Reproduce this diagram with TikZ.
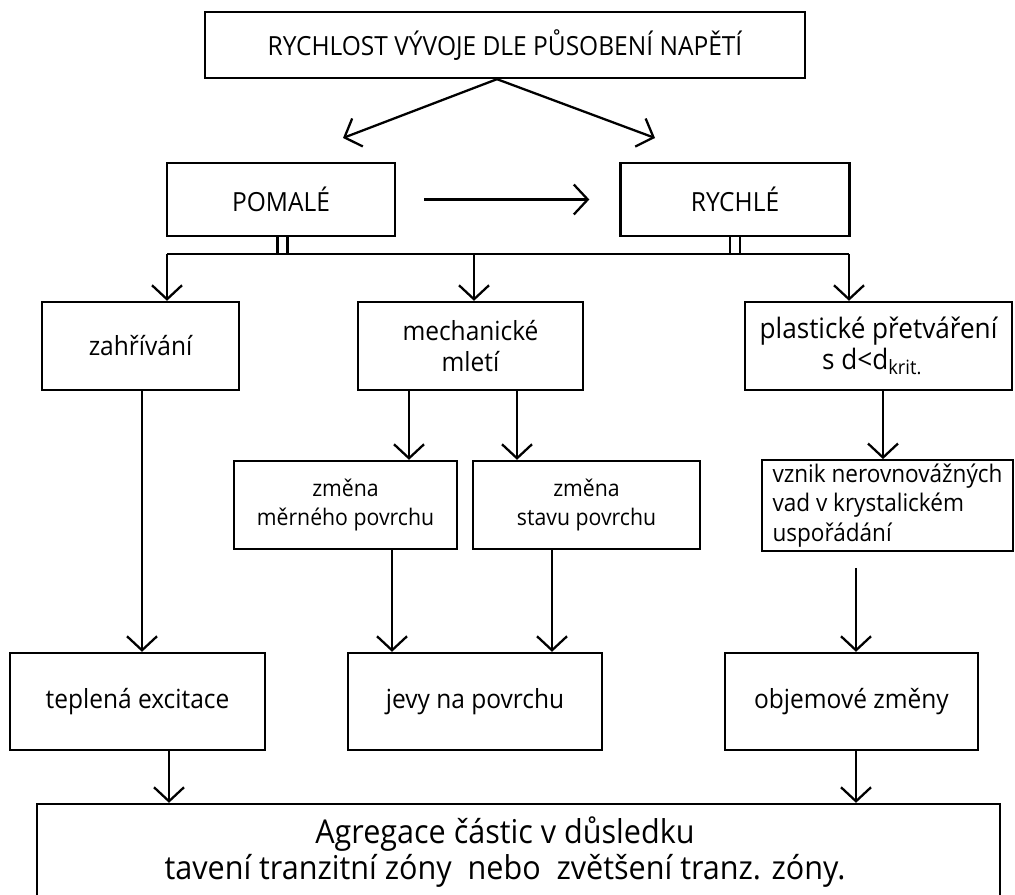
\documentclass[tikz,border=0pt]{standalone}
\usepackage{fontspec}
\setmainfont[FakeStretch=0.93]{Open Sans}
\usepackage{tikz}
\usetikzlibrary{positioning, calc, arrows.meta}

\tikzset{
  box/.style={draw, line width=1.35pt, inner sep=2pt, align=center},
  link/.style={line width=1.3pt},
  arr/.style={link, -{Straight Barb[length=0.28cm, width=0.6cm, line width=1.3pt]}},
}

\begin{document}
\begin{tikzpicture}[x=0.02cm, y=-0.02cm, font=\fontsize{15pt}{17.5pt}\selectfont]
  \useasboundingbox (0,0) rectangle (1015,895);
  % top: speed of development
  \node[box, minimum width=12cm, minimum height=1.32cm] (title) at (505,45) {RYCHLOST VÝVOJE DLE PŮSOBENÍ NAPĚTÍ};
  \coordinate (toL) at (343,138);
  \coordinate (toR) at (655,138);
  \draw[arr] ([xshift=-0.16cm]title.south) -- (toL);
  \draw[arr] ([xshift=-0.16cm]title.south) -- (toR);
  % slow / fast
  \node[box, minimum width=4.56cm, minimum height=1.46cm] (slow) at (281,199.5) {POMALÉ};
  \node[box, minimum width=4.58cm, minimum height=1.46cm] (fast) at (735,199.5) {RYCHLÉ};
  \draw[arr, shorten <=0.56cm, shorten >=0.6cm] (slow) -- (fast);
  % double stubs down to the bus
  \coordinate (busL) at (167,254);
  \coordinate (busR) at (849,254);
  \draw[link, double, double distance=0.15cm] ([xshift=0.03cm]slow.south) -- ([xshift=0.03cm]slow.south |- busL);
  \draw[link, double, double distance=0.15cm] (fast.south) -- (fast.south |- busL);
  \draw[link] (busL) -- (busR);
  % three ways
  \node[box, minimum width=3.94cm, minimum height=1.76cm] (heat) at (140.5,346) {zahřívání};
  \node[box, minimum width=4.5cm, minimum height=1.76cm] (mill) at (470.5,346) {mechanické\\mletí};
  \node[box, minimum width=5.34cm, minimum height=1.76cm, align=left, font=\fontsize{16pt}{17.5pt}\selectfont] (plast) at (878.5,346) {plastické přetváření\\\hspace*{1.25cm}s d<d\textsubscript{krit.}};
  \coordinate (cm) at (474,0);
  \draw[arr] (busL) -- (busL |- heat.north);
  \draw[arr] (cm |- busL) -- (cm |- mill.north);
  \draw[arr] (busR) -- (busR |- plast.north);
  % surface changes, defects
  \node[box, minimum width=4.46cm, minimum height=1.76cm, font=\fontsize{13pt}{16.5pt}\selectfont] (specific) at (345.5,505) {změna\\měrného povrchu};
  \node[box, minimum width=4.54cm, minimum height=1.76cm, font=\fontsize{13pt}{16.5pt}\selectfont] (state) at (586.5,505) {změna\\stavu povrchu};
  \node[box, minimum width=5.02cm, minimum height=1.78cm, align=left, font=\fontsize{13.8pt}{16.8pt}\selectfont] (defects) at (887.5,505.5) {vznik nerovnovážných\\vad v krystalickém\\uspořádání};
  \coordinate (ca) at (409,0);
  \coordinate (cb) at (517,0);
  \coordinate (ce) at (883,0);
  \draw[arr] (ca |- mill.south) -- (ca |- specific.north);
  \draw[arr] (cb |- mill.south) -- (cb |- state.north);
  \draw[arr] (ce |- plast.south) -- (ce |- defects.north);
  % effects
  \node[box, minimum width=5.1cm, minimum height=1.94cm] (thermal) at (137.5,701.5) {teplená excitace};
  \node[box, minimum width=5.08cm, minimum height=1.94cm] (surface) at (475,701.5) {jevy na povrchu};
  \node[box, minimum width=5.06cm, minimum height=1.94cm] (volume) at (851.5,701.5) {objemové změny};
  \coordinate (ch) at (142,0);
  \coordinate (cc) at (392,0);
  \coordinate (cd) at (552,0);
  \coordinate (cf) at (856,0);
  \draw[arr] (ch |- heat.south) -- (ch |- thermal.north);
  \draw[arr] (cc |- specific.south) -- (cc |- surface.north);
  \draw[arr] (cd |- state.south) -- (cd |- surface.north);
  \draw[arr, shorten <=0.32cm] (cf |- defects.south) -- (cf |- volume.north);
  % aggregation
  \node[box, minimum width=19.26cm, minimum height=1.92cm, font=\fontsize{18.7pt}{20pt}\selectfont] (aggr) at (518.5,852) {Agregace částic v důsledku\hspace*{0.54cm}\\tavení tranzitní zóny\ \ nebo\ \ zvětšení tranz. zóny.\hspace*{0.54cm}};
  \coordinate (cg) at (169,0);
  \draw[arr] (cg |- thermal.south) -- (cg |- aggr.north);
  \draw[arr] (cf |- volume.south) -- (cf |- aggr.north);
\end{tikzpicture}
\end{document}
